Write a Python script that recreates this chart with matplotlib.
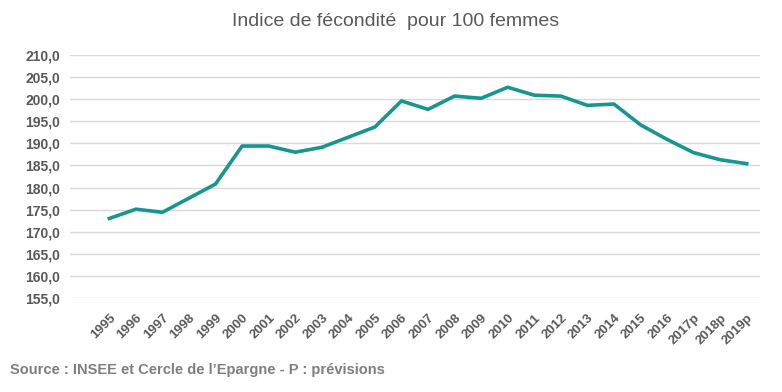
import matplotlib
matplotlib.use("Agg")
import matplotlib.pyplot as plt

years = ["1995", "1996", "1997", "1998", "1999", "2000", "2001", "2002", "2003",
         "2004", "2005", "2006", "2007", "2008", "2009", "2010", "2011", "2012",
         "2013", "2014", "2015", "2016", "2017p", "2018p", "2019p"]
fecondite = [173.0, 175.1, 174.4, 177.6, 180.8, 189.4, 189.4, 188.0, 189.1,
             191.4, 193.7, 199.6, 197.7, 200.7, 200.2, 202.7, 200.9, 200.7,
             198.6, 198.9, 194.2, 190.9, 187.9, 186.3, 185.4]
yticks = [155, 160, 165, 170, 175, 180, 185, 190, 195, 200, 205, 210]

grey = "#595959"

fig = plt.figure(figsize=(7.82, 3.92), dpi=100)
ax = fig.add_axes([70 / 782, 94 / 392, 690 / 782, 243 / 392])

x = range(len(years))
ax.plot(x, fecondite, color="#17968f", linewidth=2.6)

ax.set_xlim(-1.48, len(years) - 0.5)
ax.set_ylim(155, 210)
ax.set_yticks(yticks)
ax.set_yticklabels([f"{v:.1f}".replace(".", ",") for v in yticks],
                   fontsize=10, fontweight="bold", color=grey, family="Liberation Sans")
ax.set_xticks(list(x))
ax.set_xticklabels(years, rotation=45, ha="right", va="top", rotation_mode="anchor",
                   fontsize=9.5, fontweight="bold", color=grey, family="Liberation Sans")
ax.tick_params(length=0, pad=7)
ax.tick_params(axis="x", pad=10)
ax.grid(axis="y", color="#d9d9d9", linewidth=1)
ax.set_axisbelow(True)
for s in ax.spines.values():
    s.set_visible(False)

fig.text(396 / 782, 1 - 22 / 392, "Indice de fécondité  pour 100 femmes",
         ha="center", va="center", fontsize=14, color=grey, family="Liberation Sans")
fig.text(10 / 782, 1 - 370 / 392, "Source : INSEE et Cercle de l\u2019Epargne - P : prévisions",
         ha="left", va="center", fontsize=10.5, fontweight="bold", color="#7f7f7f",
         family="Liberation Sans")

fig.savefig("out.png", dpi=100)
